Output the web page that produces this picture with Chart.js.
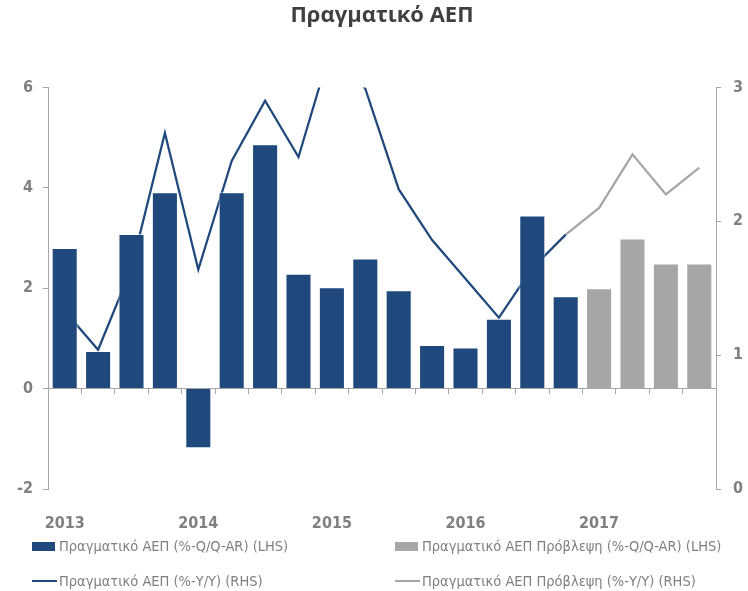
<!DOCTYPE html>
<html>
<head>
<meta charset="utf-8">
<script src="https://cdn.jsdelivr.net/npm/chart.js@4.4.1/dist/chart.umd.min.js"></script>
<style>
  body { margin: 0; background: #fff; }
  #wrap { position: relative; width: 748px; height: 591px; }
  #legend { position: absolute; left: 0; top: 0; width: 748px; height: 591px; pointer-events: none;
            font-family: 'Liberation Sans Narrow', 'DejaVu Sans Condensed', sans-serif; font-size: 14.5px; color: #7f7f7f; }
  .item { position: absolute; display: flex; align-items: center; white-space: nowrap; height: 20px; }
  .box { width: 23px; height: 9px; margin-right: 4px; }
  .line { width: 25px; height: 2px; margin-right: 2px; }
</style>
</head>
<body>
<div id="wrap">
  <canvas id="myChart" width="748" height="591"></canvas>
  <div id="legend"></div>
</div>
<script>
var quarters = ['Q1 2013', 'Q2 2013', 'Q3 2013', 'Q4 2013',
                'Q1 2014', 'Q2 2014', 'Q3 2014', 'Q4 2014',
                'Q1 2015', 'Q2 2015', 'Q3 2015', 'Q4 2015',
                'Q1 2016', 'Q2 2016', 'Q3 2016', 'Q4 2016',
                'Q1 2017', 'Q2 2017', 'Q3 2017', 'Q4 2017'];
// LHS, %-Q/Q-AR
var gdpQoQ      = [2.80, 0.75, 3.08, 3.91, -1.19, 3.91, 4.87, 2.29, 2.02, 2.59, 1.96, 0.87, 0.82, 1.39, 3.45, 1.84, null, null, null, null];
var forecastQoQ = [null, null, null, null, null, null, null, null, null, null, null, null, null, null, null, null, 2.00, 2.99, 2.49, 2.49];
// RHS, %-Y/Y
var gdpYoY      = [1.33, 1.04, 1.65, 2.66, 1.64, 2.45, 2.90, 2.48, 3.32, 2.99, 2.24, 1.86, 1.57, 1.28, 1.65, 1.90, null, null, null, null];
var forecastYoY = [null, null, null, null, null, null, null, null, null, null, null, null, null, null, null, 1.90, 2.10, 2.50, 2.20, 2.40];
var leftTicks = [-2, 0, 2, 4, 6];
var rightTicks = [0, 1, 2, 3];

var blue = '#1f497d';
var grey = '#a6a6a6';
var axisGrey = '#a6a6a6';
var textGrey = '#808080';
var narrow = "'Liberation Sans Narrow', 'DejaVu Sans Condensed', sans-serif";

var ctx = document.getElementById('myChart').getContext('2d');
var graphData = {
    type: 'bar',
    data: {
        labels: quarters,
        datasets: [{
            label: 'Πραγματικό ΑΕΠ (%-Q/Q-AR) (LHS)',
            data: gdpQoQ,
            backgroundColor: blue,
            borderColor: 'rgba(255,255,255,0.6)',
            borderWidth: 1,
            yAxisID: 'y',
            order: 0
        }, {
            label: 'Πραγματικό ΑΕΠ Πρόβλεψη (%-Q/Q-AR) (LHS)',
            data: forecastQoQ,
            backgroundColor: grey,
            borderColor: 'rgba(255,255,255,0.6)',
            borderWidth: 1,
            yAxisID: 'y',
            order: 0
        }, {
            type: 'line',
            label: 'Πραγματικό ΑΕΠ (%-Y/Y) (RHS)',
            data: gdpYoY,
            borderColor: blue,
            backgroundColor: blue,
            borderWidth: 2.25,
            pointRadius: 0,
            tension: 0,
            yAxisID: 'y1',
            order: 1
        }, {
            type: 'line',
            label: 'Πραγματικό ΑΕΠ Πρόβλεψη (%-Y/Y) (RHS)',
            data: forecastYoY,
            borderColor: grey,
            backgroundColor: grey,
            borderWidth: 2.25,
            pointRadius: 0,
            tension: 0,
            yAxisID: 'y1',
            order: 1
        }]
    },
    options: {
        responsive: false,
        animation: false,
        grouped: false,
        barPercentage: 0.78,
        categoryPercentage: 1.0,
        layout: { padding: { left: 0, right: 0, top: 0, bottom: 62 } },
        plugins: {
            legend: { display: false },
            tooltip: { enabled: false },
            title: {
                display: true,
                text: 'Πραγματικό ΑΕΠ',
                fullSize: false,
                color: '#404040',
                font: { family: "'Open Sans', sans-serif", size: 22, weight: 'bold' },
                padding: { top: 3, bottom: 58 }
            }
        },
        scales: {
            x: {
                position: 'bottom',
                grid: { display: false },
                border: { display: false },
                ticks: {
                    autoSkip: false,
                    maxRotation: 0,
                    padding: 17,
                    color: textGrey,
                    font: { family: narrow, size: 16, weight: 'bold' },
                    callback: function(v, i) {
                        return quarters[i].indexOf('Q1') === 0 ? quarters[i].slice(3) : '';
                    }
                },
                afterFit: function(s) { s.height = 40; }
            },
            xZero: {
                type: 'category',
                position: { y: 0 },
                grid: { drawOnChartArea: false, offset: true, tickLength: 5, color: axisGrey },
                border: { color: axisGrey, width: 1 },
                ticks: { display: false }
            },
            y: {
                position: 'left',
                min: -2,
                max: 6,
                afterBuildTicks: function(s) { s.ticks = leftTicks.map(function(v) { return { value: v }; }); },
                grid: { drawOnChartArea: false, tickLength: 5, color: axisGrey },
                border: { color: axisGrey, width: 1 },
                ticks: { padding: 10, color: textGrey, font: { family: narrow, size: 16, weight: 'bold' } },
                afterFit: function(s) { s.width = 48; }
            },
            y1: {
                position: 'right',
                min: 0,
                max: 3,
                afterBuildTicks: function(s) { s.ticks = rightTicks.map(function(v) { return { value: v }; }); },
                grid: { drawOnChartArea: false, tickLength: 5, color: axisGrey },
                border: { color: axisGrey, width: 1 },
                ticks: { padding: 12, color: textGrey, font: { family: narrow, size: 16, weight: 'bold' } },
                afterFit: function(s) { s.width = 32; }
            }
        }
    }
};
var myChart = new Chart(ctx, graphData);

// legend in two columns, like the original
var legendPos = [[32, 536], [395, 536], [32, 571], [395, 571]];
var legendDiv = document.getElementById('legend');
graphData.data.datasets.forEach(function(ds, i) {
    var item = document.createElement('div');
    item.className = 'item';
    item.style.left = legendPos[i][0] + 'px';
    item.style.top = legendPos[i][1] + 'px';
    var mark = document.createElement('span');
    mark.className = ds.type === 'line' ? 'line' : 'box';
    mark.style.background = ds.type === 'line' ? ds.borderColor : ds.backgroundColor;
    var txt = document.createElement('span');
    txt.innerText = ds.label;
    item.appendChild(mark);
    item.appendChild(txt);
    legendDiv.appendChild(item);
});
</script>
</body>
</html>
